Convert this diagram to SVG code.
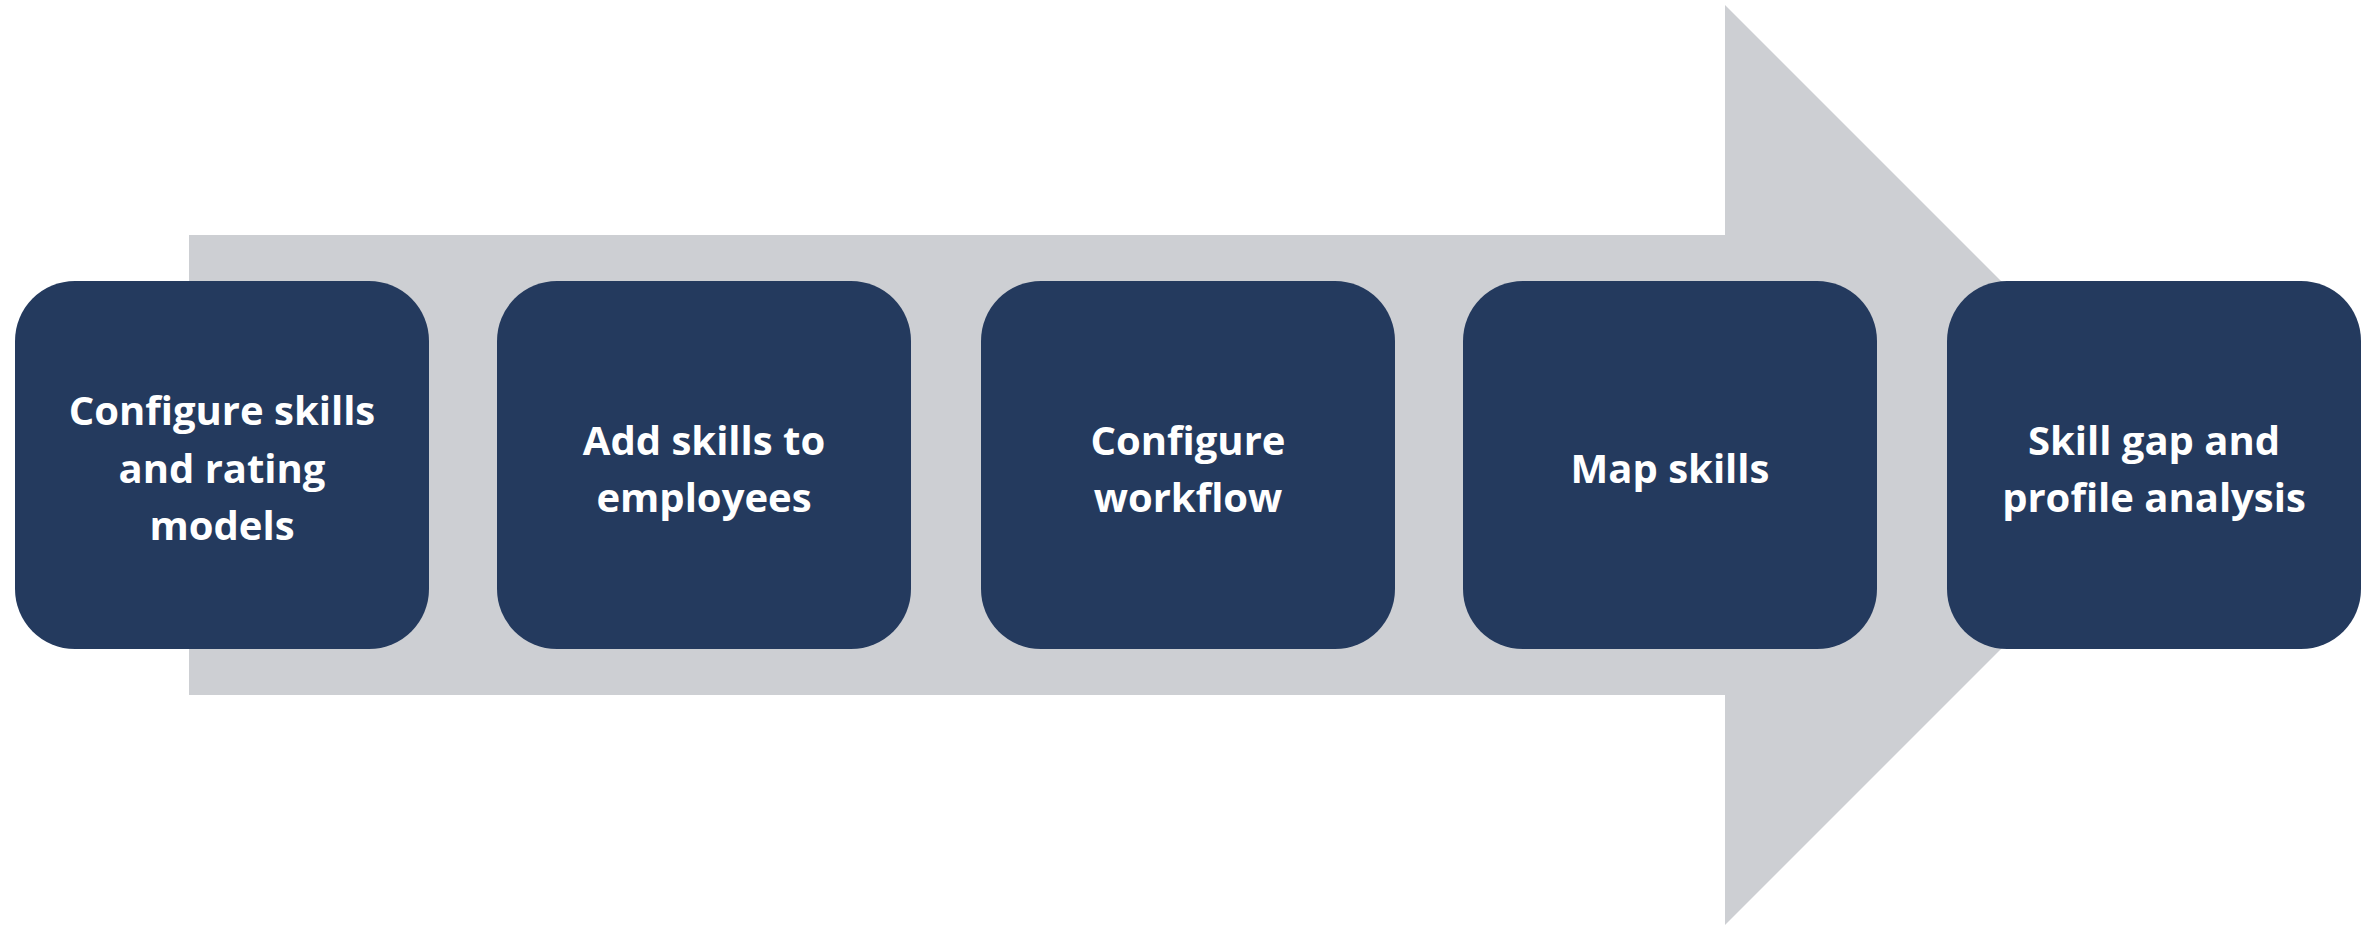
<svg xmlns="http://www.w3.org/2000/svg" width="2374" height="926" viewBox="0 0 2374 926">
<style>
.box{fill:#243a5e}
.lbl{fill:#ffffff;font-family:"Open Sans","Noto Sans","Liberation Sans",sans-serif;font-weight:bold;font-size:40px;text-anchor:middle}
</style>
<rect width="2374" height="926" fill="#ffffff"/>
<g id="arrow">
<polygon points="189,235 1725,235 1725,5 2185,465 1725,925 1725,695 189,695" fill="#cdcfd3"/>
</g>
<g id="connectors"></g>
<g id="n1">
<rect class="box" x="15" y="281" width="414" height="368" rx="60" ry="60"/>
<text class="lbl" x="222" y="425">Configure skills</text>
<text class="lbl" x="222" y="483">and rating</text>
<text class="lbl" x="222" y="540">models</text>
</g>
<g id="n2">
<rect class="box" x="497" y="281" width="414" height="368" rx="60" ry="60"/>
<text class="lbl" x="704" y="455">Add skills to</text>
<text class="lbl" x="704" y="512">employees</text>
</g>
<g id="n3">
<rect class="box" x="981" y="281" width="414" height="368" rx="60" ry="60"/>
<text class="lbl" x="1188" y="455">Configure</text>
<text class="lbl" x="1188" y="512">workflow</text>
</g>
<g id="n4">
<rect class="box" x="1463" y="281" width="414" height="368" rx="60" ry="60"/>
<text class="lbl" x="1670" y="483">Map skills</text>
</g>
<g id="n5">
<rect class="box" x="1947" y="281" width="414" height="368" rx="60" ry="60"/>
<text class="lbl" x="2154" y="455">Skill gap and</text>
<text class="lbl" x="2154" y="512">profile analysis</text>
</g>
</svg>
